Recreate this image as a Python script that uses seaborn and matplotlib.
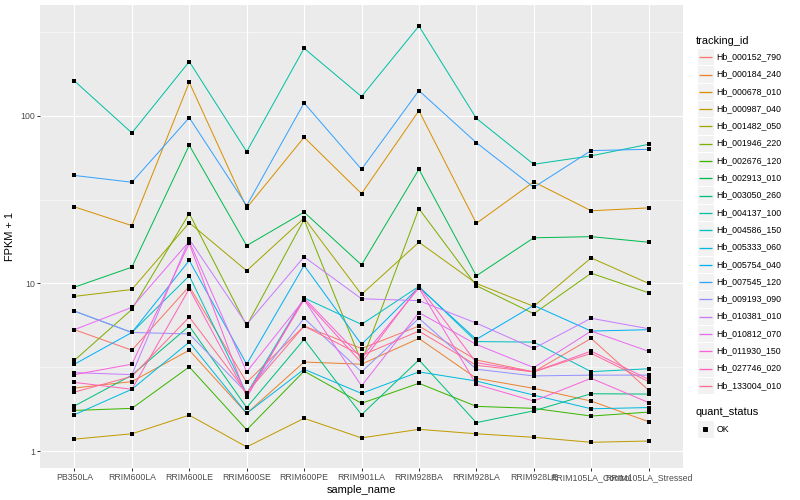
import numpy as np
import pandas as pd
import matplotlib
matplotlib.use("Agg")
import matplotlib.pyplot as plt
import matplotlib.ticker as mticker
from matplotlib.patches import Rectangle
import seaborn as sns

samples = ["PB350LA", "RRIM600LA", "RRIM600LE", "RRIM600SE", "RRIM600PE", "RRIM901LA",
           "RRIM928BA", "RRIM928LA", "RRIM928LE", "RRIM105LA_Control", "RRIM105LA_Stressed"]

tracking_ids = ["Hb_000152_790", "Hb_000184_240", "Hb_000678_010", "Hb_000987_040",
                "Hb_001482_050", "Hb_001946_220", "Hb_002676_120", "Hb_002913_010",
                "Hb_003050_260", "Hb_004137_100", "Hb_004586_150", "Hb_005333_060",
                "Hb_005754_040", "Hb_007545_120", "Hb_009193_090", "Hb_010381_010",
                "Hb_010812_070", "Hb_011930_150", "Hb_027746_020", "Hb_133004_010"]

Hb_000152_790 = [5.3, 4.0, 9.6, 2.57, 5.57, 4.09, 5.57, 3.5, 2.97, 4.7, 2.31]
Hb_000184_240 = [2.38, 2.6, 4.0, 1.68, 3.4, 3.3, 4.7, 2.72, 2.37, 1.99, 1.5]
Hb_000678_010 = [28.6, 22.1, 158, 28.2, 74.3, 34.3, 107, 22.8, 40.3, 27.1, 28.2]
Hb_000987_040 = [1.18, 1.27, 1.64, 1.06, 1.57, 1.2, 1.35, 1.27, 1.21, 1.13, 1.15]
Hb_001482_050 = [8.37, 9.2, 23, 11.9, 24.5, 8.6, 17.6, 10, 7.3, 14.2, 10]
Hb_001946_220 = [3.48, 7.0, 26.1, 5.6, 24.0, 3.4, 27.9, 9.7, 6.6, 11.5, 8.8]
Hb_002676_120 = [1.75, 1.8, 3.18, 1.34, 3.0, 1.93, 2.54, 1.85, 1.8, 1.62, 1.71]
Hb_002913_010 = [9.5, 12.5, 66.6, 16.8, 26.6, 12.9, 47.9, 11.1, 18.7, 19.0, 17.6]
Hb_003050_260 = [1.86, 2.84, 5.57, 1.82, 4.64, 1.65, 3.5, 1.48, 1.74, 2.2, 2.19]
Hb_004137_100 = [161, 78.9, 210, 61, 252, 130, 342, 96.4, 51.3, 57.6, 67.5]
Hb_004586_150 = [6.84, 5.1, 11.1, 2.2, 8.2, 5.7, 9.6, 4.5, 4.47, 2.98, 3.1]
Hb_005333_060 = [1.65, 2.34, 4.47, 1.68, 3.08, 2.21, 2.97, 2.62, 2.16, 1.79, 1.82]
Hb_005754_040 = [3.3, 5.1, 13.7, 3.3, 12.8, 4.33, 9.5, 4.64, 7.4, 5.2, 5.3]
Hb_007545_120 = [44, 40.1, 97.3, 29.1, 119, 47.9, 141, 69, 37.4, 61.9, 63]
Hb_009193_090 = [6.84, 5.1, 5.0, 2.23, 6.2, 2.97, 6.2, 3.08, 2.81, 2.84, 2.84]
Hb_010381_010 = [2.94, 2.86, 18.3, 5.7, 14.4, 8.1, 7.9, 5.8, 4.1, 6.2, 5.37]
Hb_010812_070 = [5.3, 7.2, 17.8, 2.97, 8.0, 2.45, 6.7, 4.33, 3.15, 5.2, 3.94]
Hb_011930_150 = [2.86, 3.3, 17.3, 2.09, 8.2, 3.6, 9.4, 2.5, 1.99, 2.72, 1.95]
Hb_027746_020 = [2.57, 2.34, 9.3, 2.15, 8.0, 3.37, 9.6, 3.37, 2.97, 3.95, 2.68]
Hb_133004_010 = [2.25, 2.79, 6.3, 2.23, 5.57, 3.72, 5.2, 3.25, 2.97, 3.83, 2.6]

series = [Hb_000152_790, Hb_000184_240, Hb_000678_010, Hb_000987_040, Hb_001482_050,
          Hb_001946_220, Hb_002676_120, Hb_002913_010, Hb_003050_260, Hb_004137_100,
          Hb_004586_150, Hb_005333_060, Hb_005754_040, Hb_007545_120, Hb_009193_090,
          Hb_010381_010, Hb_010812_070, Hb_011930_150, Hb_027746_020, Hb_133004_010]

palette = ["#F8766D", "#EA8331", "#D89000", "#C09B00", "#A3A500", "#7CAE00", "#39B600",
           "#00BB4E", "#00BF7D", "#00C1A3", "#00BFC4", "#00BAE0", "#00B0F6", "#35A2FF",
           "#9590FF", "#C77CFF", "#E76BF3", "#FA62DB", "#FF62BC", "#FF6C91"]

quant_status = ["OK"]

rows = []
for tid, vals in zip(tracking_ids, series):
    for s, v in zip(samples, vals):
        rows.append({"tracking_id": tid, "sample_name": s, "fpkm1": v, "quant_status": "OK"})
df = pd.DataFrame(rows)

plt.rcParams['font.family'] = ['Liberation Sans', 'DejaVu Sans']

W, H = 800, 500
fig = plt.figure(figsize=(W / 72, H / 72), dpi=72)
px_l, px_r, px_t, px_b = 40, 683, 5, 468
ax = fig.add_axes([px_l / W, 1 - px_b / H, (px_r - px_l) / W, (px_b - px_t) / H])
ax.set_facecolor("#EBEBEB")
for sp in ax.spines.values():
    sp.set_visible(False)

sns.lineplot(data=df, x="sample_name", y="fpkm1", hue="tracking_id",
             hue_order=tracking_ids, palette=palette, estimator=None, sort=False,
             linewidth=1.0, legend=False, ax=ax, zorder=2)
sns.scatterplot(data=df, x="sample_name", y="fpkm1", color="black", marker="s",
                s=13, linewidth=0, legend=False, ax=ax, zorder=3)

ax.set_yscale("log")
lo = np.log10(df["fpkm1"].min())
hi = np.log10(df["fpkm1"].max())
pad = 0.05 * (hi - lo)
ax.set_ylim(10 ** (lo - pad), 10 ** (hi + pad))
ax.set_xlim(-0.6, len(samples) - 0.4)

ax.yaxis.set_major_locator(mticker.FixedLocator([1, 10, 100]))
ax.yaxis.set_major_formatter(mticker.FixedFormatter(["1", "10", "100"]))
ax.yaxis.set_minor_locator(mticker.FixedLocator([10 ** 0.5, 10 ** 1.5, 10 ** 2.5]))
ax.yaxis.set_minor_formatter(mticker.NullFormatter())

ax.grid(which="major", color="white", linewidth=1.1, zorder=0)
ax.grid(which="minor", axis="y", color="white", linewidth=0.55, zorder=0)
ax.set_axisbelow(True)

ax.tick_params(axis="both", which="major", length=2.75, width=1.0, color="#333333",
               labelcolor="#4D4D4D", labelsize=8.8, pad=2)
ax.tick_params(axis="y", which="minor", length=0)

ax.set_xlabel("sample_name", fontsize=11, color="black", labelpad=3)
ax.set_ylabel("FPKM + 1", fontsize=11, color="black", labelpad=5)

# legend drawn in pixel coordinates
lax = fig.add_axes([0, 0, 1, 1], zorder=5)
lax.set_xlim(0, W)
lax.set_ylim(H, 0)
lax.axis("off")

lax.text(696, 40.5, "tracking_id", fontsize=11, va="center", ha="left", color="black")
y0, dy = 56.7, 17.3
for i, (tid, col) in enumerate(zip(tracking_ids, palette)):
    yc = y0 + i * dy
    ypix = np.floor(yc) + 0.5
    lax.add_patch(Rectangle((697, yc - dy / 2), 16.5, dy, facecolor="#F2F2F2",
                            edgecolor="white", linewidth=1.0))
    lax.plot([698.5, 711.5], [ypix, ypix], color=col, linewidth=1.3,
             solid_capstyle="butt", antialiased=True)
    lax.text(716.5, yc, tid, fontsize=8.8, va="center", ha="left", color="black")

lax.text(696, 412, "quant_status", fontsize=11, va="center", ha="left", color="black")
yq = 429
for q in quant_status:
    lax.add_patch(Rectangle((697, yq - dy / 2), 16.5, dy, facecolor="#F2F2F2",
                            edgecolor="white", linewidth=1.0))
    lax.plot([705], [yq], marker="s", color="black", markersize=3.5, linestyle="none")
    lax.text(716.5, yq, q, fontsize=8.8, va="center", ha="left", color="black")

fig.savefig("out.png", dpi=72, facecolor="white")
